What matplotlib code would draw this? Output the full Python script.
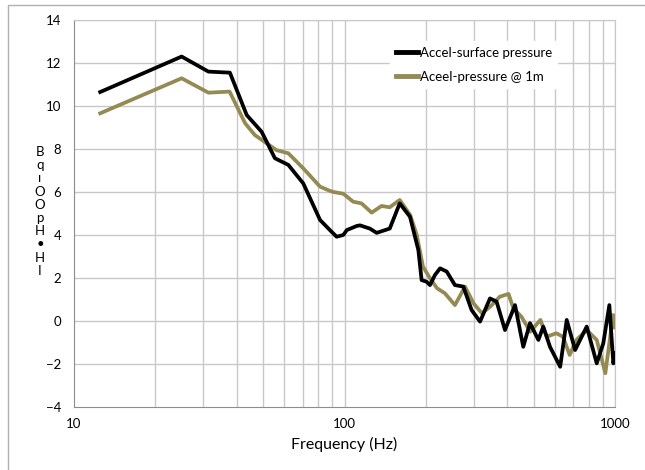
import matplotlib.pyplot as plt
from matplotlib.patches import Rectangle


# black trace: Accel-surface pressure
surf_freq = [12.5, 25, 31.4, 37.7, 43.5, 49.4, 55.3, 62, 70.4, 81.2, 88.3, 93.5,
             99, 102, 111, 114, 124, 131.5, 147, 160, 174.6, 187.5, 192.8, 201,
             207, 216, 225.6, 238.7, 256, 275, 295, 317, 345, 365, 392, 427,
             458, 485, 521, 543, 575, 627, 663, 712, 786, 856, 905, 953, 986, 1000]
surf_db = [10.65, 12.3, 11.6, 11.55, 9.58, 8.8, 7.57, 7.26, 6.4, 4.7, 4.23, 3.92,
           4.0, 4.23, 4.42, 4.45, 4.3, 4.1, 4.3, 5.47, 4.85, 3.3, 1.9, 1.83,
           1.67, 2.14, 2.45, 2.3, 1.67, 1.6, 0.51, -0.03, 1.05, 0.9, -0.42, 0.74,
           -1.2, -0.1, -0.88, -0.26, -1.2, -2.13, 0.05, -1.35, -0.26, -1.97, -1.04, 0.74, -1.97, -1.5]

# olive trace: Aceel-pressure @ 1m
p1m_freq = [12.5, 25, 31.4, 37.6, 42.9, 46.6, 56, 62, 70.4, 81.2, 88, 91, 99,
            107.6, 115.6, 126, 137, 147, 160, 175, 185, 195, 207, 220, 235,
            256, 279, 300, 322, 346, 375, 404, 421, 451, 486, 530, 559, 607,
            642, 680, 720, 786, 856, 921, 960, 985, 1000]
p1m_db = [9.66, 11.29, 10.62, 10.67, 9.2, 8.65, 7.95, 7.8, 7.1, 6.25, 6.06, 6.0, 5.92,
          5.55, 5.47, 5.04, 5.35, 5.29, 5.63, 4.93, 4.0, 2.53, 1.99, 1.52, 1.29,
          0.74, 1.6, 0.82, 0.36, 0.67, 1.13, 1.26, 0.59, 0.2, -0.5, 0.05, -0.73, -0.57,
          -0.73, -1.58, -0.88, -0.42, -0.88, -2.43, -0.73, 0.28, -0.3]

y_ticks = list(range(-4, 15, 2))
x_ticks = [10, 100, 1000]
x_minor = [20, 30, 40, 50, 60, 70, 80, 90, 200, 300, 400, 500, 600, 700, 800, 900]

plt.rcParams['font.family'] = ['Lato', 'DejaVu Sans']

fig = plt.figure(figsize=(6.45, 4.70), dpi=100)
ax = fig.add_axes([74 / 645, 63 / 470, 541 / 645, 387 / 470])

# outer chart frame (only top and left edges fall inside the image)
fig.add_artist(Rectangle((8 / 645, -0.1), 1.2, 0.1 + 465 / 470,
                         transform=fig.transFigure, fill=False,
                         edgecolor='#b0b0b0', linewidth=1.0))

ax.set_xscale('log')
ax.set_xlim(10, 1000)
ax.set_ylim(-4, 14)

for f in x_ticks[1:] + x_minor:
    ax.axvline(f, color='#c8c8c8', linewidth=1.0, zorder=0)
for v in y_ticks[1:]:
    ax.axhline(v, color='#c8c8c8', linewidth=1.0, zorder=0)

ax.plot(surf_freq, surf_db, color='black', linewidth=2.7,
        label='Accel-surface pressure', zorder=3)
ax.plot(p1m_freq, p1m_db, color='#948a54', linewidth=2.7,
        label='Aceel-pressure @ 1m', zorder=2)

ax.set_xticks(x_ticks)
ax.set_xticklabels([str(t) for t in x_ticks])
ax.set_xticks([], minor=True)
ax.set_yticks(y_ticks)
ax.tick_params(axis='both', length=0, labelsize=9.5)
ax.tick_params(axis='y', pad=9)
ax.tick_params(axis='x', pad=8)

for side in ['left', 'bottom']:
    ax.spines[side].set_color('#8c8c8c')
for side in ['top', 'right']:
    ax.spines[side].set_color('#c8c8c8')

ax.set_xlabel('Frequency (Hz)', fontsize=11.5, labelpad=5)

# garbled stacked y-axis label as it appears in the source
fig.text(40 / 645, 1 - 146 / 470, 'B\nq\nı\nO\nO\np\nH\n•\nH\nI',
         fontsize=9.5, ha='center', va='top', linespacing=1.12)

leg = ax.legend(loc='upper left', bbox_to_anchor=(0.585, 0.945), fontsize=9.5,
                frameon=True, fancybox=False, edgecolor='white',
                handlelength=1.7, handletextpad=0.1, labelspacing=0.95,
                borderaxespad=0)
leg.get_frame().set_alpha(1)
for line in leg.get_lines():
    line.set_linewidth(3.5)

fig.savefig('out.png', dpi=100)
